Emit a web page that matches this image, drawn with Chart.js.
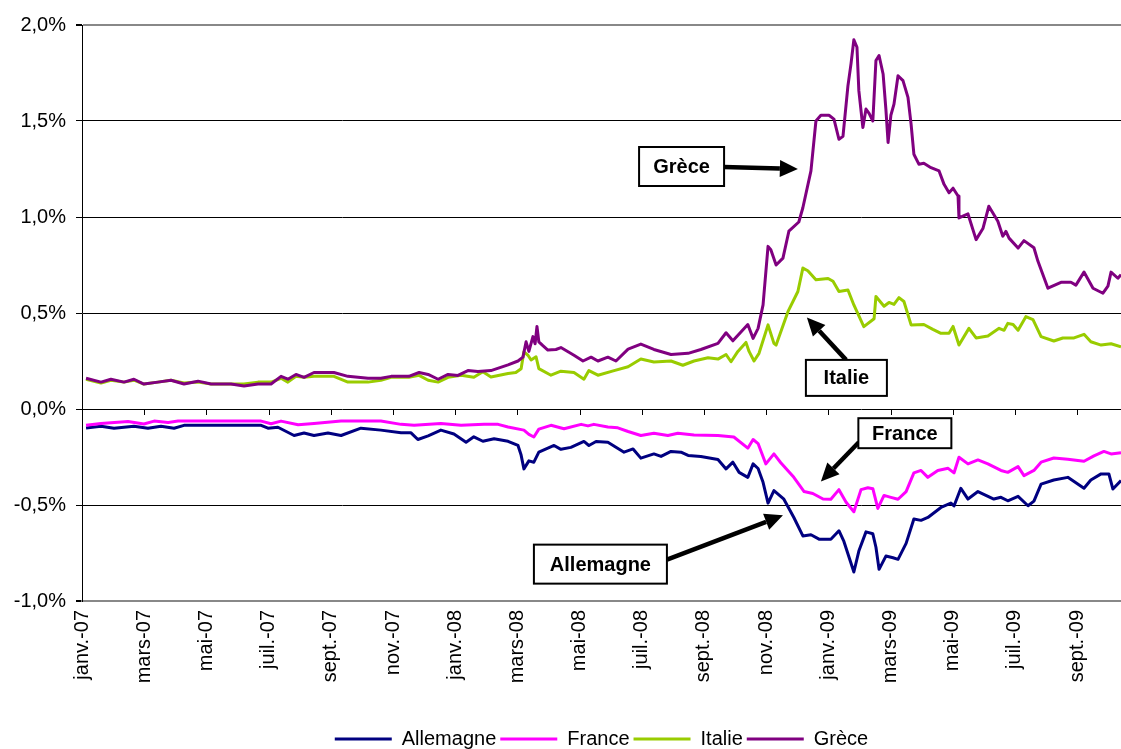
<!DOCTYPE html>
<html>
<head>
<meta charset="utf-8">
<script src="https://cdn.jsdelivr.net/npm/chart.js@4.4.0/dist/chart.umd.min.js"></script>
<style>
html, body { margin: 0; padding: 0; background: #fff; }
#wrap { width: 1121px; height: 749px; }
</style>
</head>
<body>
<div id="wrap"><canvas id="chart"></canvas></div>
<script>
// x = months since janv.-07, y = spread in %
const tickMonths = [0, 2, 4, 6, 8, 10, 12, 14, 16, 18, 20, 22, 24, 26, 28, 30, 32];
const monthLabels = ['janv.-07', 'mars-07', 'mai-07', 'juil.-07', 'sept.-07', 'nov.-07',
    'janv.-08', 'mars-08', 'mai-08', 'juil.-08', 'sept.-08', 'nov.-08',
    'janv.-09', 'mars-09', 'mai-09', 'juil.-09', 'sept.-09'];
const lastMonth = 33.41;

const allemagne = [[0.13,-0.099],[0.61,-0.09],[1.03,-0.1],[1.67,-0.09],[2.12,-0.1],[2.54,-0.09],[2.96,-0.1],[3.28,-0.085],[5.76,-0.085],[5.98,-0.1],[6.30,-0.095],[6.82,-0.138],[7.14,-0.125],[7.46,-0.138],[7.91,-0.125],[8.33,-0.138],[8.97,-0.1],[9.61,-0.11],[10.26,-0.124],[10.58,-0.124],[10.80,-0.159],[11.13,-0.14],[11.54,-0.11],[11.96,-0.13],[12.35,-0.173],[12.60,-0.145],[12.89,-0.168],[13.25,-0.155],[13.70,-0.168],[14.02,-0.19],[14.12,-0.24],[14.21,-0.312],[14.37,-0.27],[14.53,-0.277],[14.69,-0.225],[15.18,-0.19],[15.40,-0.21],[15.72,-0.2],[16.14,-0.169],[16.30,-0.19],[16.53,-0.169],[16.91,-0.173],[17.43,-0.225],[17.72,-0.208],[17.97,-0.256],[18.39,-0.234],[18.62,-0.247],[18.94,-0.221],[19.26,-0.225],[19.49,-0.242],[19.90,-0.247],[20.45,-0.263],[20.71,-0.312],[20.93,-0.277],[21.13,-0.33],[21.41,-0.356],[21.58,-0.286],[21.74,-0.31],[21.90,-0.382],[22.06,-0.49],[22.25,-0.425],[22.57,-0.47],[22.89,-0.565],[23.18,-0.661],[23.44,-0.655],[23.70,-0.678],[24.08,-0.678],[24.34,-0.634],[24.50,-0.69],[24.82,-0.849],[24.98,-0.74],[25.21,-0.64],[25.43,-0.65],[25.53,-0.72],[25.63,-0.835],[25.85,-0.766],[26.08,-0.775],[26.24,-0.783],[26.50,-0.70],[26.75,-0.573],[26.98,-0.58],[27.20,-0.565],[27.62,-0.513],[27.94,-0.49],[28.04,-0.505],[28.26,-0.413],[28.49,-0.469],[28.81,-0.43],[29.32,-0.469],[29.55,-0.46],[29.77,-0.478],[30.10,-0.455],[30.42,-0.504],[30.61,-0.48],[30.84,-0.391],[31.25,-0.37],[31.70,-0.356],[32.22,-0.413],[32.44,-0.37],[32.77,-0.338],[33.02,-0.338],[33.15,-0.417],[33.41,-0.373]];

const france = [[0.13,-0.085],[0.61,-0.075],[1.48,-0.065],[1.99,-0.078],[2.32,-0.063],[2.77,-0.07],[3.09,-0.063],[5.76,-0.063],[6.08,-0.077],[6.40,-0.063],[6.95,-0.082],[7.46,-0.075],[8.33,-0.063],[9.61,-0.063],[10.26,-0.08],[10.68,-0.085],[11.54,-0.075],[12.19,-0.085],[12.93,-0.08],[13.38,-0.08],[13.70,-0.094],[14.21,-0.11],[14.37,-0.132],[14.53,-0.146],[14.69,-0.105],[15.08,-0.085],[15.50,-0.103],[16.05,-0.08],[16.27,-0.088],[16.46,-0.08],[16.91,-0.094],[17.23,-0.098],[17.56,-0.117],[17.97,-0.138],[18.39,-0.126],[18.84,-0.138],[19.16,-0.126],[19.68,-0.135],[20.45,-0.138],[20.96,-0.146],[21.41,-0.204],[21.58,-0.159],[21.74,-0.18],[21.99,-0.286],[22.25,-0.234],[22.47,-0.28],[22.89,-0.356],[23.22,-0.43],[23.50,-0.44],[23.83,-0.469],[24.08,-0.47],[24.34,-0.42],[24.57,-0.486],[24.82,-0.535],[25.05,-0.42],[25.27,-0.41],[25.43,-0.415],[25.59,-0.518],[25.79,-0.45],[26.01,-0.46],[26.24,-0.47],[26.50,-0.43],[26.75,-0.333],[26.98,-0.32],[27.20,-0.356],[27.52,-0.32],[27.85,-0.309],[28.04,-0.333],[28.20,-0.251],[28.49,-0.286],[28.81,-0.265],[29.13,-0.286],[29.55,-0.32],[29.77,-0.33],[30.10,-0.30],[30.29,-0.347],[30.61,-0.32],[30.84,-0.277],[31.25,-0.255],[31.70,-0.262],[32.22,-0.272],[32.54,-0.244],[32.86,-0.221],[33.09,-0.234],[33.41,-0.228]];

const italie = [[0.13,0.155],[0.61,0.135],[0.93,0.15],[1.35,0.14],[1.67,0.15],[1.99,0.13],[2.44,0.14],[2.86,0.15],[3.28,0.135],[3.73,0.14],[4.15,0.13],[4.79,0.13],[5.21,0.13],[5.66,0.14],[6.08,0.14],[6.40,0.16],[6.62,0.14],[6.88,0.17],[7.14,0.165],[7.46,0.17],[8.10,0.17],[8.55,0.14],[9.20,0.14],[9.61,0.15],[9.94,0.165],[10.51,0.165],[10.84,0.175],[11.13,0.15],[11.45,0.14],[11.77,0.165],[12.19,0.176],[12.60,0.165],[12.89,0.194],[13.15,0.167],[13.70,0.185],[13.95,0.19],[14.12,0.21],[14.21,0.298],[14.34,0.28],[14.44,0.255],[14.60,0.272],[14.69,0.21],[15.08,0.176],[15.40,0.197],[15.82,0.19],[16.14,0.155],[16.30,0.20],[16.59,0.176],[17.11,0.20],[17.56,0.22],[17.97,0.26],[18.39,0.245],[18.94,0.25],[19.32,0.228],[19.68,0.25],[20.13,0.267],[20.45,0.26],[20.71,0.284],[20.87,0.246],[21.09,0.30],[21.35,0.347],[21.45,0.30],[21.61,0.25],[21.77,0.29],[22.06,0.438],[22.25,0.342],[22.32,0.333],[22.70,0.507],[23.02,0.612],[23.18,0.734],[23.34,0.72],[23.60,0.673],[23.99,0.68],[24.15,0.665],[24.34,0.612],[24.63,0.62],[24.82,0.542],[25.14,0.429],[25.47,0.47],[25.53,0.586],[25.79,0.535],[25.95,0.555],[26.11,0.545],[26.27,0.58],[26.43,0.56],[26.66,0.438],[27.07,0.44],[27.36,0.415],[27.62,0.394],[27.88,0.394],[28.01,0.43],[28.20,0.333],[28.52,0.42],[28.75,0.37],[29.13,0.38],[29.49,0.42],[29.65,0.41],[29.77,0.446],[29.94,0.44],[30.10,0.41],[30.35,0.481],[30.58,0.465],[30.84,0.377],[31.25,0.354],[31.54,0.37],[31.90,0.37],[32.22,0.389],[32.44,0.35],[32.77,0.333],[33.09,0.34],[33.41,0.324]];

const grece = [[0.13,0.16],[0.61,0.14],[0.93,0.155],[1.35,0.14],[1.67,0.155],[1.99,0.13],[2.44,0.14],[2.86,0.15],[3.28,0.13],[3.73,0.145],[4.15,0.13],[4.79,0.13],[5.21,0.12],[5.66,0.13],[6.08,0.13],[6.40,0.17],[6.62,0.155],[6.88,0.18],[7.14,0.165],[7.46,0.19],[8.10,0.19],[8.55,0.17],[9.20,0.16],[9.61,0.16],[9.94,0.17],[10.51,0.17],[10.84,0.19],[11.13,0.18],[11.45,0.155],[11.77,0.18],[12.09,0.175],[12.41,0.20],[12.73,0.195],[13.15,0.20],[13.70,0.23],[14.02,0.25],[14.18,0.27],[14.28,0.35],[14.37,0.30],[14.50,0.377],[14.57,0.34],[14.63,0.43],[14.69,0.35],[14.82,0.33],[14.98,0.307],[15.24,0.31],[15.40,0.32],[15.82,0.28],[16.11,0.25],[16.37,0.27],[16.59,0.25],[16.91,0.27],[17.17,0.25],[17.56,0.312],[17.97,0.338],[18.39,0.31],[18.94,0.284],[19.49,0.29],[19.90,0.31],[20.45,0.342],[20.71,0.397],[20.93,0.355],[21.41,0.44],[21.58,0.368],[21.74,0.42],[21.90,0.542],[22.06,0.847],[22.15,0.83],[22.32,0.75],[22.54,0.786],[22.73,0.926],[23.05,0.974],[23.18,1.048],[23.44,1.24],[23.60,1.50],[23.76,1.53],[24.02,1.53],[24.18,1.51],[24.34,1.405],[24.47,1.42],[24.63,1.684],[24.73,1.80],[24.82,1.923],[24.92,1.884],[24.98,1.658],[25.11,1.466],[25.21,1.562],[25.31,1.54],[25.43,1.50],[25.53,1.815],[25.63,1.841],[25.76,1.745],[25.85,1.56],[25.92,1.388],[26.01,1.53],[26.11,1.588],[26.24,1.736],[26.40,1.71],[26.56,1.623],[26.66,1.484],[26.75,1.327],[26.91,1.275],[27.07,1.28],[27.30,1.257],[27.56,1.24],[27.72,1.17],[27.88,1.126],[28.01,1.15],[28.17,1.109],[28.20,0.995],[28.49,1.016],[28.75,0.882],[28.97,0.94],[29.16,1.056],[29.45,0.978],[29.61,0.90],[29.71,0.925],[29.81,0.89],[30.10,0.838],[30.29,0.877],[30.61,0.84],[30.74,0.769],[31.06,0.629],[31.48,0.66],[31.80,0.66],[31.96,0.645],[32.22,0.713],[32.51,0.629],[32.83,0.603],[32.99,0.64],[33.09,0.713],[33.31,0.681],[33.41,0.70]];

// labelled boxes with arrows, placed in data units (month, %)
const notes = [
    {text: 'Grèce', box: [19.28, 1.263], w: 85, h: 39, tail: [20.64, 1.26], tip: [23.02, 1.25]},
    {text: 'Italie', box: [24.58, 0.162], w: 81, h: 36, tail: [24.57, 0.256], tip: [23.31, 0.476]},
    {text: 'France', box: [26.46, -0.126], w: 93, h: 30, tail: [24.98, -0.173], tip: [23.76, -0.377]},
    {text: 'Allemagne', box: [16.67, -0.808], w: 133, h: 39, tail: [18.81, -0.785], tip: [22.54, -0.554]}
];

const toPoints = (rows) => rows.map(r => ({x: r[0], y: r[1]}));

function drawArrow(ctx, x1, y1, x2, y2) {
    const ang = Math.atan2(y2 - y1, x2 - x1);
    const head = 18, half = 8.5;
    const bx = x2 - Math.cos(ang) * head, by = y2 - Math.sin(ang) * head;
    ctx.lineWidth = 4.5;
    ctx.beginPath();
    ctx.moveTo(x1, y1);
    ctx.lineTo(bx, by);
    ctx.stroke();
    ctx.beginPath();
    ctx.moveTo(x2, y2);
    ctx.lineTo(bx + Math.sin(ang) * half, by - Math.cos(ang) * half);
    ctx.lineTo(bx - Math.sin(ang) * half, by + Math.cos(ang) * half);
    ctx.closePath();
    ctx.fill();
}

const overlay = {
    id: 'overlay',
    afterLayout(chart) {
        // centre the legend under the plot area rather than the canvas
        const lg = chart.legend;
        const shift = (chart.chartArea.left + chart.chartArea.right) / 2 - (lg.left + lg.right) / 2;
        lg.left += shift;
        lg.right += shift;
    },
    afterDatasetsDraw(chart) {
        const {ctx, scales: {x, y}} = chart;
        const y0 = Math.round(y.getPixelForValue(0));
        ctx.save();
        ctx.strokeStyle = '#000';
        ctx.fillStyle = '#000';
        ctx.lineWidth = 1;
        tickMonths.forEach(m => {
            const px = Math.round(x.getPixelForValue(m)) + 0.5;
            ctx.beginPath();
            ctx.moveTo(px, y0);
            ctx.lineTo(px, y0 + 6);
            ctx.stroke();
        });

        notes.forEach(n => {
            drawArrow(ctx, x.getPixelForValue(n.tail[0]), y.getPixelForValue(n.tail[1]),
                x.getPixelForValue(n.tip[0]), y.getPixelForValue(n.tip[1]));
            const cx = x.getPixelForValue(n.box[0]), cy = y.getPixelForValue(n.box[1]);
            ctx.fillStyle = '#fff';
            ctx.fillRect(cx - n.w / 2, cy - n.h / 2, n.w, n.h);
            ctx.lineWidth = 2;
            ctx.strokeRect(cx - n.w / 2, cy - n.h / 2, n.w, n.h);
            ctx.fillStyle = '#000';
            ctx.font = 'bold 20px "Liberation Sans", Arial, sans-serif';
            ctx.textAlign = 'center';
            ctx.textBaseline = 'middle';
            ctx.fillText(n.text, cx, cy + 1);
        });
        ctx.restore();
    }
};

Chart.defaults.font.family = '"Liberation Sans", Arial, sans-serif';
Chart.defaults.color = '#000';

function line(label, rows, color, order) {
    return {
        label: label,
        data: toPoints(rows),
        borderColor: color,
        backgroundColor: color,
        borderWidth: 3,
        borderJoinStyle: 'round',
        pointRadius: 0,
        tension: 0,
        order: order
    };
}

new Chart('chart', {
    type: 'line',
    data: {
        datasets: [
            line('Allemagne', allemagne, '#000080', 4),
            line('France', france, '#FF00FF', 3),
            line('Italie', italie, '#99CC00', 2),
            line('Grèce', grece, '#800080', 1)
        ]
    },
    options: {
        responsive: true,
        maintainAspectRatio: false,
        animation: false,
        layout: {padding: {top: 25, right: 0, left: 0, bottom: -10}},
        plugins: {
            tooltip: {enabled: false},
            legend: {
                position: 'bottom',
                labels: {
                    usePointStyle: true,
                    pointStyle: 'line',
                    pointStyleWidth: 57,
                    padding: 4,
                    font: {size: 20},
                    sort: (a, b) => a.datasetIndex - b.datasetIndex
                }
            }
        },
        scales: {
            x: {
                type: 'linear',
                min: 0,
                max: lastMonth,
                afterBuildTicks: (s) => { s.ticks = tickMonths.map(v => ({value: v})); },
                afterFit: (s) => { s.height = 124; },
                grid: {display: false, drawTicks: false},
                border: {color: '#888', width: 2},
                ticks: {
                    autoSkip: false,
                    maxRotation: 90,
                    minRotation: 90,
                    padding: 9,
                    font: {size: 20},
                    callback: (v, i) => monthLabels[i]
                }
            },
            y: {
                min: -1,
                max: 2,
                afterFit: (s) => { s.width = 82; },
                border: {color: '#000', width: 1},
                grid: {
                    color: (c) => (c.tick && (c.tick.value === 2 || c.tick.value === -1)) ? '#888' : '#000',
                    lineWidth: (c) => (c.tick && (c.tick.value === 2 || c.tick.value === -1)) ? 2 : 1,
                    tickColor: '#000',
                    tickLength: 6
                },
                ticks: {
                    stepSize: 0.5,
                    padding: 10,
                    font: {size: 20},
                    callback: (v) => v.toFixed(1).replace('.', ',') + '%'
                }
            }
        }
    },
    plugins: [overlay]
});
</script>
</body>
</html>
